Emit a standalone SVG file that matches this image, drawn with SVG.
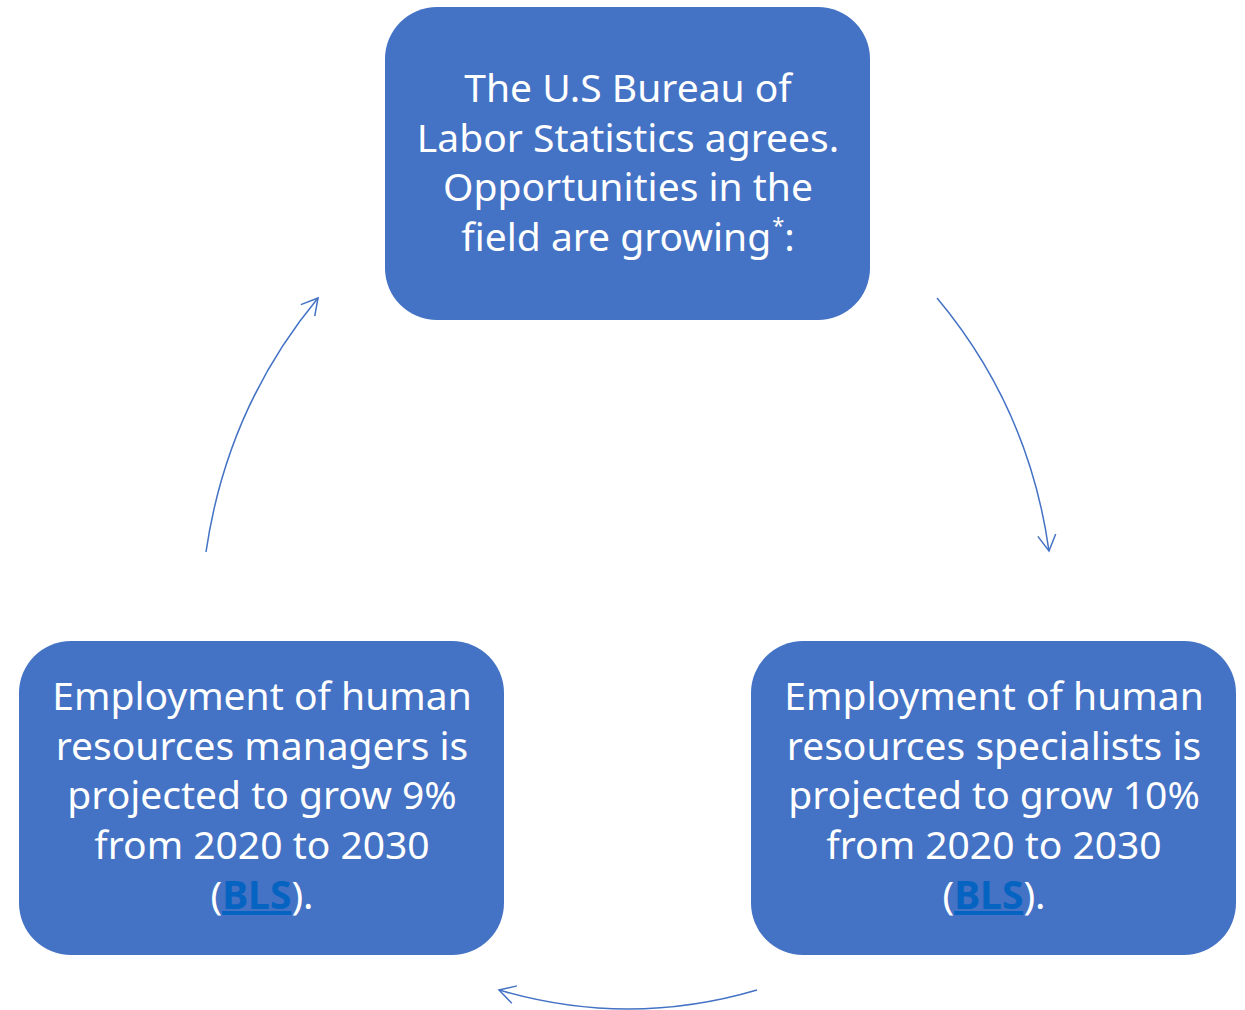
<svg xmlns="http://www.w3.org/2000/svg" width="1245" height="1010" viewBox="0 0 1245 1010">
  <defs>
    <style>
      .box { fill: #4472C4; }
      .label { font-family: "Noto Sans", "Open Sans", sans-serif; font-size: 39px; fill: #FFFFFF; text-anchor: middle; }
      .link { fill: #0563C1; font-weight: bold; text-decoration: underline; }
      .conn { fill: none; stroke: #4472C4; stroke-width: 1.5; }
    </style>
    <marker id="arrow" markerUnits="userSpaceOnUse" markerWidth="24" markerHeight="24" refX="18" refY="10" orient="auto" viewBox="0 0 24 20">
      <path d="M2,1 L18,10 L2,19" fill="none" stroke="#4472C4" stroke-width="1.5"/>
    </marker>
  </defs>
  <rect width="1245" height="1010" fill="#FFFFFF"/>

  <g id="connectors">
    <path class="conn" d="M937,298 Q1029,408 1049,551" marker-end="url(#arrow)"/>
    <path class="conn" d="M757,990 Q628,1028 499,990" marker-end="url(#arrow)"/>
    <path class="conn" d="M206,552 Q227,408 318,298" marker-end="url(#arrow)"/>
  </g>

  <g id="node-bls">
    <rect class="box" x="385" y="7" width="485" height="313" rx="52" ry="52"/>
    <text class="label" x="628" y="102">The U.S Bureau of</text>
    <text class="label" x="628" y="152">Labor Statistics agrees.</text>
    <text class="label" x="628" y="201">Opportunities in the</text>
    <text class="label" x="628" y="251">field are growing<tspan font-size="22" dx="1" dy="-18">*</tspan><tspan dy="18">:</tspan></text>
  </g>

  <g id="node-specialists">
    <rect class="box" x="751" y="641" width="485" height="314" rx="52" ry="52"/>
    <text class="label" x="994" y="710">Employment of human</text>
    <text class="label" x="994" y="760">resources specialists is</text>
    <text class="label" x="994" y="809">projected to grow 10%</text>
    <text class="label" x="994" y="859">from 2020 to 2030</text>
    <text class="label" x="994" y="909">(<tspan class="link">BLS</tspan>).</text>
  </g>

  <g id="node-managers">
    <rect class="box" x="19" y="641" width="485" height="314" rx="52" ry="52"/>
    <text class="label" x="262" y="710">Employment of human</text>
    <text class="label" x="262" y="760">resources managers is</text>
    <text class="label" x="262" y="809">projected to grow 9%</text>
    <text class="label" x="262" y="859">from 2020 to 2030</text>
    <text class="label" x="262" y="909">(<tspan class="link">BLS</tspan>).</text>
  </g>
</svg>
